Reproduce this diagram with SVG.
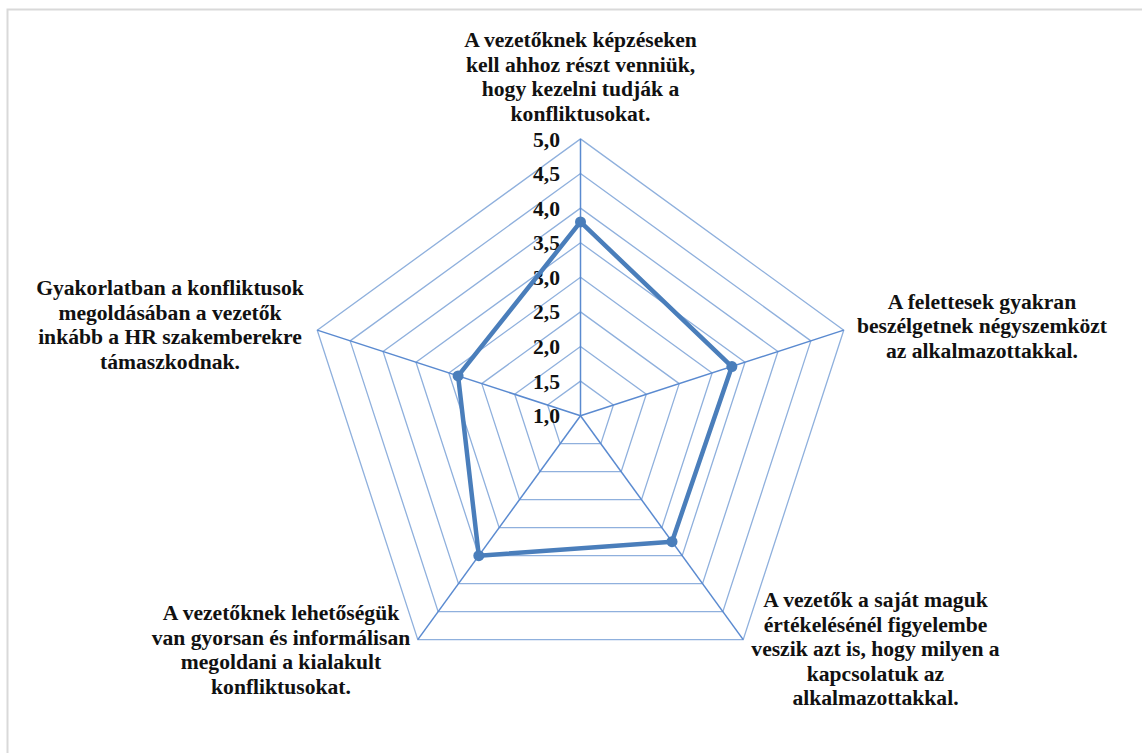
<svg xmlns="http://www.w3.org/2000/svg" width="1142" height="753" viewBox="0 0 1142 753">
<style>
.grid{fill:none;stroke:#8fb0dd;stroke-width:1.3}
.axis{stroke:#5a8ad0;stroke-width:1.5}
.lbl{font-weight:bold;font-size:21.6px;fill:#111;text-anchor:middle}
.tick{font-weight:bold;font-size:21.6px;fill:#111;text-anchor:end}
.series{fill:none;stroke:#4a7ebb;stroke-width:4.5;stroke-linejoin:round}
.mk{fill:#4a7ebb}
</style>
<rect x="0" y="0" width="1142" height="753" fill="#ffffff"/>
<path d="M7.5,753 V9.5 H1142" fill="none" stroke="#d9d9d9" stroke-width="2"/>
<g id="grid">
<polygon class="grid" points="580.5,381.1 613.41,405.01 600.84,443.69 560.16,443.69 547.59,405.01"/>
<polygon class="grid" points="580.5,346.5 646.31,394.32 621.18,471.68 539.82,471.68 514.69,394.32"/>
<polygon class="grid" points="580.5,311.9 679.22,383.62 641.51,499.68 519.49,499.68 481.78,383.62"/>
<polygon class="grid" points="580.5,277.3 712.13,372.93 661.85,527.67 499.15,527.67 448.87,372.93"/>
<polygon class="grid" points="580.5,242.7 745.03,362.24 682.19,555.66 478.81,555.66 415.97,362.24"/>
<polygon class="grid" points="580.5,208.1 777.94,351.55 702.53,583.65 458.47,583.65 383.06,351.55"/>
<polygon class="grid" points="580.5,173.5 810.85,340.86 722.86,611.64 438.14,611.64 350.15,340.86"/>
<polygon class="grid" points="580.5,138.9 843.76,330.16 743.2,639.64 417.8,639.64 317.24,330.16"/>
</g>
<g id="axes">
<line class="axis" x1="580.5" y1="415.7" x2="580.5" y2="138.9"/>
<line class="axis" x1="580.5" y1="415.7" x2="843.76" y2="330.16"/>
<line class="axis" x1="580.5" y1="415.7" x2="743.2" y2="639.64"/>
<line class="axis" x1="580.5" y1="415.7" x2="417.8" y2="639.64"/>
<line class="axis" x1="580.5" y1="415.7" x2="317.24" y2="330.16"/>
</g>
<g id="text" font-family="'Liberation Serif', 'DejaVu Serif', serif">
<g id="ticks">
<text class="tick" x="560" y="146.5">5,0</text>
<text class="tick" x="560" y="181">4,5</text>
<text class="tick" x="560" y="215.5">4,0</text>
<text class="tick" x="560" y="250">3,5</text>
<text class="tick" x="560" y="284.5">3,0</text>
<text class="tick" x="560" y="319">2,5</text>
<text class="tick" x="560" y="353.5">2,0</text>
<text class="tick" x="560" y="388.5">1,5</text>
<text class="tick" x="560" y="423">1,0</text>
</g>
<g id="label-top">
<text class="lbl" x="580.5" y="47">A vezetőknek képzéseken</text>
<text class="lbl" x="580.5" y="71.5">kell ahhoz részt venniük,</text>
<text class="lbl" x="580.5" y="96">hogy kezelni tudják a</text>
<text class="lbl" x="580.5" y="120.5">konfliktusokat.</text>
</g>
<g id="label-right">
<text class="lbl" x="982" y="308.5">A felettesek gyakran</text>
<text class="lbl" x="982" y="333">beszélgetnek négyszemközt</text>
<text class="lbl" x="982" y="357.5">az alkalmazottakkal.</text>
</g>
<g id="label-lowright">
<text class="lbl" x="875.5" y="607">A vezetők a saját maguk</text>
<text class="lbl" x="875.5" y="631.5">értékelésénél figyelembe</text>
<text class="lbl" x="875.5" y="656">veszik azt is, hogy milyen a</text>
<text class="lbl" x="875.5" y="680.5">kapcsolatuk az</text>
<text class="lbl" x="875.5" y="705">alkalmazottakkal.</text>
</g>
<g id="label-lowleft">
<text class="lbl" x="281" y="620">A vezetőknek lehetőségük</text>
<text class="lbl" x="281" y="644.5">van gyorsan és informálisan</text>
<text class="lbl" x="281" y="669">megoldani a kialakult</text>
<text class="lbl" x="281" y="693.5">konfliktusokat.</text>
</g>
<g id="label-left">
<text class="lbl" x="170" y="295">Gyakorlatban a konfliktusok</text>
<text class="lbl" x="170" y="319.5">megoldásában a vezetők</text>
<text class="lbl" x="170" y="344">inkább a HR szakemberekre</text>
<text class="lbl" x="170" y="368.5">támaszkodnak.</text>
</g>
</g>
<g id="series">
<polygon class="series" points="580.5,221.94 731.87,366.52 672.02,541.66 478.81,555.66 458.1,375.93"/>
<circle class="mk" cx="580.5" cy="221.94" r="5.5"/>
<circle class="mk" cx="731.87" cy="366.52" r="5.5"/>
<circle class="mk" cx="672.02" cy="541.66" r="5.5"/>
<circle class="mk" cx="478.81" cy="555.66" r="5.5"/>
<circle class="mk" cx="458.1" cy="375.93" r="5.5"/>
</g>
</svg>
